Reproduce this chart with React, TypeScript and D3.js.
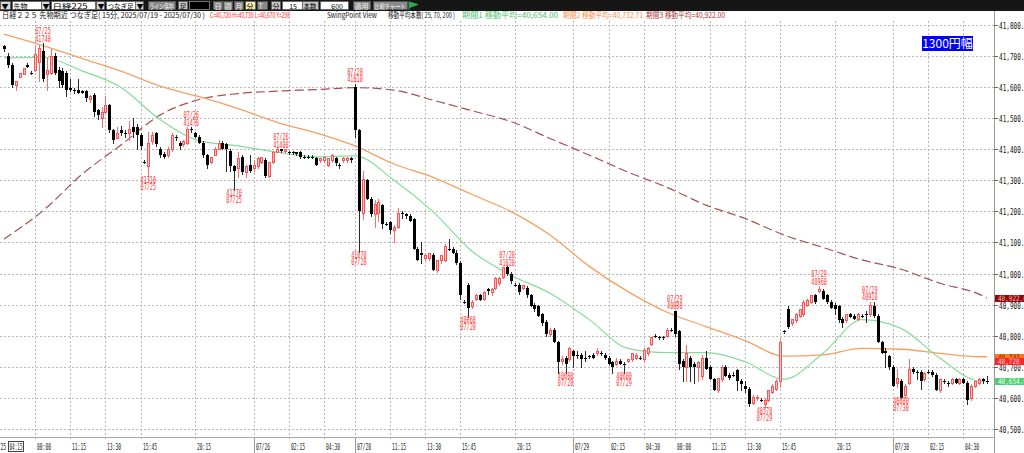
import * as d3 from 'd3';
import { useEffect, useRef } from 'react';

// 15-minute bars, [open, high, low, close]
const ohlc: number[][] = [
  [41730, 41735, 41715, 41720], [41700, 41710, 41665, 41670], [41670, 41675, 41600, 41605], [41605, 41620, 41590, 41620],
  [41630, 41645, 41630, 41645], [41640, 41660, 41640, 41660], [41670, 41675, 41665, 41665], [41645, 41650, 41640, 41645],
  [41655, 41735, 41650, 41705], [41680, 41735, 41620, 41725], [41715, 41740, 41620, 41625], [41640, 41695, 41590, 41655],
  [41645, 41720, 41640, 41700], [41700, 41710, 41640, 41645], [41655, 41665, 41600, 41620], [41650, 41660, 41600, 41605],
  [41645, 41650, 41570, 41590], [41595, 41625, 41585, 41590], [41590, 41595, 41580, 41585], [41590, 41625, 41580, 41580],
  [41585, 41590, 41580, 41580], [41585, 41590, 41555, 41565], [41560, 41575, 41550, 41570], [41575, 41580, 41505, 41520],
  [41525, 41530, 41495, 41510], [41500, 41535, 41470, 41520], [41520, 41570, 41515, 41540], [41540, 41545, 41455, 41460],
  [41460, 41465, 41420, 41430], [41435, 41470, 41435, 41450], [41460, 41475, 41445, 41450], [41450, 41460, 41440, 41450],
  [41450, 41490, 41430, 41465], [41470, 41500, 41440, 41455], [41470, 41480, 41400, 41445], [41445, 41450, 41400, 41410],
  [41360, 41365, 41355, 41360], [41345, 41455, 41310, 41420], [41425, 41455, 41415, 41445], [41450, 41455, 41410, 41415],
  [41400, 41405, 41375, 41380], [41385, 41390, 41370, 41375], [41380, 41405, 41375, 41400], [41400, 41450, 41395, 41445],
  [41440, 41445, 41430, 41435], [41420, 41425, 41400, 41410], [41415, 41430, 41410, 41425], [41420, 41470, 41415, 41465],
  [41465, 41470, 41455, 41460], [41450, 41455, 41440, 41440], [41440, 41445, 41420, 41420], [41420, 41425, 41375, 41380],
  [41380, 41385, 41340, 41350], [41360, 41375, 41355, 41375], [41380, 41405, 41380, 41400], [41400, 41430, 41400, 41420],
  [41420, 41425, 41400, 41400], [41415, 41420, 41330, 41400], [41395, 41400, 41330, 41345], [41345, 41350, 41270, 41330],
  [41340, 41390, 41310, 41370], [41375, 41380, 41320, 41325], [41325, 41350, 41310, 41345], [41350, 41380, 41325, 41330],
  [41340, 41365, 41330, 41350], [41345, 41375, 41340, 41370], [41360, 41375, 41355, 41375], [41365, 41370, 41310, 41315],
  [41315, 41360, 41310, 41360], [41360, 41395, 41355, 41390], [41390, 41405, 41390, 41400], [41400, 41400, 41390, 41395],
  [41395, 41400, 41390, 41400], [41390, 41395, 41385, 41390], [41390, 41395, 41385, 41390], [41390, 41390, 41380, 41385],
  [41390, 41395, 41370, 41375], [41375, 41380, 41370, 41375], [41375, 41380, 41370, 41375], [41375, 41380, 41370, 41375],
  [41370, 41375, 41350, 41350], [41365, 41370, 41360, 41370], [41365, 41375, 41360, 41375], [41350, 41370, 41345, 41370],
  [41365, 41385, 41360, 41380], [41370, 41375, 41350, 41355], [41350, 41355, 41340, 41345], [41365, 41375, 41360, 41370],
  [41365, 41375, 41360, 41370], [41370, 41375, 41360, 41365], [41600, 41610, 41440, 41460], [41460, 41465, 41070, 41200],
  [41195, 41330, 41175, 41305], [41300, 41305, 41240, 41240], [41240, 41245, 41185, 41190], [41190, 41235, 41150, 41225],
  [41195, 41240, 41170, 41230], [41220, 41225, 41145, 41160], [41160, 41165, 41155, 41160], [41165, 41170, 41130, 41140],
  [41140, 41155, 41100, 41150], [41150, 41210, 41145, 41195], [41195, 41200, 41180, 41190], [41190, 41195, 41180, 41185],
  [41185, 41190, 41170, 41170], [41175, 41180, 41080, 41080], [41080, 41085, 41045, 41045], [41065, 41100, 41035, 41060],
  [41050, 41065, 41045, 41060], [41050, 41065, 41045, 41065], [41060, 41065, 41010, 41010], [41010, 41045, 41005, 41045],
  [41045, 41060, 41035, 41060], [41045, 41095, 41040, 41090], [41080, 41110, 41075, 41075], [41080, 41085, 41065, 41065],
  [41065, 41075, 41030, 41035], [41035, 41040, 40920, 40930], [40910, 40915, 40905, 40910], [40965, 40970, 40860, 40890],
  [40895, 40915, 40890, 40910], [40920, 40935, 40915, 40930], [40930, 40935, 40915, 40915], [40920, 40945, 40915, 40940],
  [40950, 40955, 40935, 40945], [40940, 40955, 40930, 40950], [40955, 40990, 40950, 40985], [40970, 40990, 40965, 40985],
  [40990, 41020, 40985, 41020], [41020, 41025, 40995, 41000], [41000, 41005, 40970, 40975], [40965, 40970, 40960, 40965],
  [40965, 40970, 40935, 40940], [40955, 40965, 40950, 40965], [40955, 40960, 40925, 40930], [40930, 40935, 40895, 40895],
  [40900, 40905, 40880, 40885], [40895, 40900, 40865, 40865], [40870, 40875, 40835, 40840], [40845, 40850, 40800, 40805],
  [40805, 40825, 40800, 40820], [40820, 40825, 40780, 40780], [40780, 40785, 40680, 40715], [40720, 40735, 40710, 40725],
  [40730, 40735, 40680, 40710], [40725, 40765, 40720, 40760], [40750, 40755, 40700, 40735], [40740, 40750, 40730, 40740],
  [40740, 40745, 40700, 40725], [40730, 40750, 40720, 40725], [40735, 40740, 40730, 40735], [40740, 40745, 40730, 40730],
  [40745, 40760, 40740, 40750], [40745, 40750, 40740, 40745], [40740, 40745, 40725, 40730], [40730, 40735, 40710, 40710],
  [40715, 40720, 40680, 40700], [40710, 40730, 40705, 40720], [40720, 40725, 40710, 40710], [40710, 40715, 40680, 40710],
  [40720, 40725, 40715, 40725], [40725, 40745, 40720, 40745], [40730, 40745, 40725, 40740], [40730, 40735, 40725, 40730],
  [40725, 40760, 40720, 40755], [40745, 40765, 40740, 40760], [40775, 40795, 40770, 40795], [40800, 40805, 40795, 40795],
  [40795, 40800, 40790, 40795], [40795, 40800, 40790, 40795], [40800, 40825, 40795, 40820], [40820, 40825, 40815, 40820],
  [40880, 40880, 40800, 40805], [40815, 40820, 40695, 40710], [40720, 40725, 40655, 40700], [40700, 40770, 40655, 40745],
  [40730, 40735, 40655, 40700], [40710, 40715, 40650, 40700], [40700, 40720, 40655, 40715], [40670, 40740, 40660, 40730],
  [40730, 40750, 40695, 40695], [40700, 40705, 40660, 40660], [40660, 40665, 40625, 40625], [40625, 40665, 40620, 40665],
  [40660, 40705, 40655, 40700], [40700, 40705, 40670, 40670], [40675, 40680, 40660, 40665], [40675, 40685, 40670, 40675],
  [40690, 40695, 40625, 40655], [40655, 40660, 40625, 40645], [40640, 40655, 40620, 40630], [40630, 40635, 40575, 40580],
  [40585, 40610, 40580, 40605], [40600, 40610, 40595, 40605], [40595, 40600, 40590, 40595], [40580, 40600, 40570, 40595],
  [40595, 40625, 40590, 40625], [40620, 40645, 40615, 40640], [40630, 40660, 40625, 40655], [40655, 40790, 40635, 40780],
  [40815, 40820, 40810, 40815], [40885, 40895, 40825, 40830], [40840, 40855, 40835, 40855], [40850, 40875, 40845, 40870],
  [40865, 40885, 40860, 40885], [40870, 40915, 40865, 40910], [40900, 40920, 40895, 40915], [40910, 40930, 40905, 40930],
  [40930, 40935, 40905, 40910], [40945, 40960, 40940, 40950], [40945, 40950, 40920, 40920], [40930, 40935, 40905, 40910],
  [40910, 40915, 40890, 40890], [40900, 40905, 40870, 40885], [40895, 40900, 40845, 40850], [40855, 40860, 40830, 40840],
  [40850, 40870, 40845, 40870], [40870, 40875, 40860, 40860], [40865, 40870, 40855, 40855], [40855, 40875, 40850, 40870],
  [40865, 40870, 40860, 40860], [40870, 40880, 40845, 40870], [40870, 40910, 40865, 40900], [40895, 40910, 40860, 40865],
  [40865, 40870, 40780, 40780], [40780, 40785, 40745, 40745], [40750, 40760, 40700, 40745], [40735, 40740, 40695, 40700],
  [40700, 40705, 40640, 40640], [40650, 40695, 40635, 40665], [40655, 40660, 40600, 40600], [40610, 40645, 40605, 40640],
  [40650, 40725, 40645, 40695], [40695, 40700, 40680, 40685], [40685, 40690, 40660, 40685], [40685, 40690, 40630, 40655],
  [40660, 40685, 40655, 40680], [40685, 40690, 40680, 40685], [40685, 40690, 40670, 40675], [40675, 40680, 40625, 40625],
  [40625, 40665, 40620, 40660], [40655, 40660, 40650, 40655], [40650, 40655, 40640, 40645], [40650, 40665, 40645, 40660],
  [40660, 40665, 40650, 40650], [40650, 40665, 40645, 40660], [40660, 40665, 40650, 40650], [40650, 40655, 40580, 40595],
  [40600, 40645, 40595, 40640], [40640, 40655, 40635, 40655], [40650, 40665, 40645, 40660], [40660, 40665, 40650, 40655],
  [40655, 40670, 40650, 40655],
];

// moving averages, read at these bars
const maBars = [0, 10, 20, 30, 40, 50, 60, 70, 80, 90, 100, 110, 120, 130, 140, 150, 160, 170, 180, 190, 200, 210, 220, 230, 240, 250, 252];
const ma25 = [41693, 41694, 41651, 41598, 41495, 41427, 41410, 41390, 41375, 41378, 41300, 41199, 41072, 40995, 40937, 40853, 40760, 40746, 40746, 40717, 40661, 40744, 40852, 40824, 40728, 40655, 40654];
const ma70 = [41769, 41732, 41691, 41650, 41602, 41568, 41530, 41486, 41452, 41410, 41352, 41309, 41254, 41199, 41124, 41024, 40942, 40876, 40830, 40785, 40735, 40739, 40760, 40757, 40744, 40733, 40733];
const ma200 = [41111, 41202, 41319, 41413, 41509, 41559, 41578, 41586, 41591, 41597, 41589, 41557, 41523, 41488, 41434, 41381, 41326, 41277, 41220, 41177, 41124, 41084, 41044, 41014, 40969, 40934, 40922];

const priceTicks = [40500, 40600, 40700, 40800, 40900, 41000, 41100, 41200, 41300, 41400, 41500, 41600, 41700, 41800];

const timeBars = [8, 17, 26, 35, 49, 64, 73, 82, 90, 99, 108, 117, 131, 146, 155, 164, 172, 181, 190, 199, 213, 228, 237, 246];
const timeLabels = ['08:00', '11:15', '13:30', '15:45', '20:15', '07/26', '02:15', '04:30', '07/28', '11:15', '13:30', '15:45',
  '20:15', '07/29', '02:15', '04:30', '08:00', '11:15', '13:30', '15:45', '20:15', '07/30', '02:15', '04:30'];

// swing points: bar, high/low, date, price
const swingBars = [10, 37, 48, 59, 71, 90, 91, 119, 129, 144, 159, 172, 195, 209, 222, 230];
const swingHigh = [true, false, true, false, true, true, false, false, true, false, false, true, false, true, true, false];
const swingDates = ['07/25', '07/25', '07/26', '07/25', '07/26', '07/28', '07/28', '07/28', '07/28', '07/28', '07/29', '07/29', '07/29', '07/29', '07/29', '07/30'];
const swingPrices = [41740, 41310, 41470, 41270, 41400, 41610, 41070, 40860, 41020, 40680, 40680, 40880, 40570, 40960, 40910, 40600];

// last values on the price axis
const lastTexts = ['40,922.0', '40,732.7', '40,720', '40,654.0'];
const lastPrices = [40922, 40732.71, 40720, 40654];

const MONO = 'DejaVu Sans Mono, monospace';
const JP = 'Noto Sans CJK JP, sans-serif';

const NikkeiChart = () => {
  const ref = useRef<SVGSVGElement | null>(null);

  useEffect(() => {
    const width = 1024;
    const height = 453;
    const plotRight = 994;
    const plotTop = 20;
    const plotBottom = 437;

    const svg = d3.select(ref.current).attr('width', width).attr('height', height);
    svg.selectAll('*').remove();

    const x = d3.scaleLinear().domain([0, ohlc.length - 1]).range([4, 986.8]);
    const y = d3.scaleLinear().domain([40500, 41800]).range([429.3, 24.5]);

    svg.append('rect').attr('width', width).attr('height', height).attr('fill', '#fff');

    svg.append('defs').append('clipPath').attr('id', 'plot-clip')
      .append('rect').attr('x', 0).attr('y', plotTop).attr('width', plotRight).attr('height', plotBottom - plotTop);

    // grid
    const grid = svg.append('g').attr('stroke', '#b8b8b8').attr('stroke-dasharray', '2,2').attr('stroke-width', 1);
    priceTicks.forEach((p) => {
      const yy = Math.round(y(p)) + 0.5;
      grid.append('line').attr('x1', 0).attr('x2', plotRight).attr('y1', yy).attr('y2', yy);
    });
    timeBars.forEach((b) => {
      const xx = Math.round(x(b)) + 0.5;
      grid.append('line').attr('x1', xx).attr('x2', xx).attr('y1', 21).attr('y2', 441);
    });
    // day separators in the time axis
    timeBars.forEach((b, k) => {
      if (!timeLabels[k].includes('/')) return;
      const xx = Math.round(x(b)) + 0.5;
      svg.append('line').attr('x1', xx).attr('x2', xx).attr('y1', 437).attr('y2', 453).attr('stroke', '#9a9a9a');
    });

    // axes frame
    svg.append('line').attr('x1', 0).attr('x2', plotRight).attr('y1', plotBottom + 0.5).attr('y2', plotBottom + 0.5).attr('stroke', '#a8a8a8');
    svg.append('line').attr('x1', plotRight + 0.5).attr('x2', plotRight + 0.5).attr('y1', 11).attr('y2', height).attr('stroke', '#9a9a9a');

    // price labels
    priceTicks.forEach((p) => {
      const yy = Math.round(y(p)) + 0.5;
      svg.append('line').attr('x1', plotRight).attr('x2', plotRight + 4).attr('y1', yy).attr('y2', yy).attr('stroke', '#666');
      svg.append('text').attr('x', 999).attr('y', yy + 3).attr('font-family', MONO).attr('font-size', 8)
        .attr('textLength', 29).attr('lengthAdjust', 'spacingAndGlyphs').attr('fill', '#111')
        .text(d3.format(',.1f')(p));
    });

    // time labels
    timeBars.forEach((b, k) => {
      svg.append('text').attr('x', Math.round(x(b)) + 2).attr('y', 449.5).attr('font-family', MONO).attr('font-size', 8)
        .attr('textLength', 14).attr('lengthAdjust', 'spacingAndGlyphs').attr('fill', '#222').text(timeLabels[k]);
    });
    svg.append('text').attr('x', 6).attr('y', 449.5).attr('text-anchor', 'end').attr('font-family', MONO).attr('font-size', 8)
      .attr('textLength', 14).attr('lengthAdjust', 'spacingAndGlyphs').attr('fill', '#222').text('07/25');
    svg.append('rect').attr('x', 8.5).attr('y', 441.5).attr('width', 15).attr('height', 10).attr('fill', '#fff').attr('stroke', '#444');
    svg.append('text').attr('x', 9.5).attr('y', 449.5).attr('font-family', MONO).attr('font-size', 8)
      .attr('textLength', 13).attr('lengthAdjust', 'spacingAndGlyphs').attr('fill', '#222').text('04:15');

    const plot = svg.append('g').attr('clip-path', 'url(#plot-clip)');

    // moving averages
    const maLine = d3.line<number>().x((_, k) => x(maBars[k])).y((d) => y(d)).curve(d3.curveMonotoneX);
    plot.append('path').attr('d', maLine(ma200)).attr('fill', 'none').attr('stroke', '#a65050')
      .attr('stroke-width', 1.2).attr('stroke-dasharray', '9,4');
    plot.append('path').attr('d', maLine(ma70)).attr('fill', 'none').attr('stroke', '#f5a062').attr('stroke-width', 1.3);
    plot.append('path').attr('d', maLine(ma25)).attr('fill', 'none').attr('stroke', '#86dc96').attr('stroke-width', 1.2);

    // candles
    ohlc.forEach(([o, h, l, c], i) => {
      const px = Math.round(x(i));
      const cx = px + 0.5;
      const up = c > o;
      const top = Math.round(y(Math.max(o, c)));
      const bot = Math.round(y(Math.min(o, c)));
      plot.append('line').attr('x1', cx).attr('x2', cx).attr('y1', Math.round(y(h))).attr('y2', Math.round(y(l)) + 1)
        .attr('stroke', up ? '#ff6a6a' : '#2a2a2a');
      if (up) {
        plot.append('rect').attr('x', px - 0.5).attr('y', top + 0.5).attr('width', 2).attr('height', Math.max(1, bot - top))
          .attr('fill', '#ffc6c6').attr('stroke', '#ff5252').attr('stroke-width', 1);
      } else {
        plot.append('rect').attr('x', px - 1).attr('y', top).attr('width', 3).attr('height', Math.max(1, bot - top)).attr('fill', '#000');
      }
    });

    // swing point labels
    swingBars.forEach((b, k) => {
      const yy = y(swingPrices[k]);
      const lines = swingHigh[k]
        ? [[swingDates[k], yy - 9], [String(swingPrices[k]), yy - 1.5]]
        : [[String(swingPrices[k]), yy + 6], [swingDates[k], yy + 13]];
      lines.forEach(([t, ty]) => {
        svg.append('text').attr('x', x(b)).attr('y', ty as number).attr('text-anchor', 'middle')
          .attr('font-family', MONO).attr('font-size', 8).attr('textLength', 15.5).attr('lengthAdjust', 'spacingAndGlyphs')
          .attr('fill', '#ff3030').text(t as string);
      });
    });

    // range box
    svg.append('rect').attr('x', 922).attr('y', 36).attr('width', 51).attr('height', 15).attr('fill', '#0000ff');
    svg.append('text').attr('x', 947.5).attr('y', 48).attr('text-anchor', 'middle').attr('font-family', JP)
      .attr('font-size', 12).attr('fill', '#fff').text('1300円幅');

    // last value boxes
    const boxFill = ['#8b0a0a', '#ff7a1a', '#ff2626', '#4dcf72'];
    const boxText = ['#ffb4b4', '#7a1a00', '#ffd0d0', '#eaffea'];
    lastPrices.forEach((p, k) => {
      const yy = Math.round(y(p));
      svg.append('rect').attr('x', plotRight + 1).attr('y', yy - 3).attr('width', width - plotRight).attr('height', 7).attr('fill', boxFill[k]);
      svg.append('text').attr('x', 998).attr('y', yy + 3).attr('font-family', MONO).attr('font-size', 7.5)
        .attr('textLength', lastTexts[k].length * 3.6).attr('lengthAdjust', 'spacingAndGlyphs').attr('fill', boxText[k]).text(lastTexts[k]);
    });

    // toolbar
    svg.append('rect').attr('x', 0).attr('y', 0).attr('width', width).attr('height', 11).attr('fill', '#161616');
    const tools: [number, number, string, string][] = [
      [0, 10, 'btn', '▼'], [12, 29, 'field', '先物'], [41, 8, 'btn', '▼'], [51, 44, 'field', '日経225'], [96, 8, 'btn', '▼'],
      [106, 29, 'field', 'つなぎ足'], [135, 8, 'btn', '▼'], [148, 27, 'gray', 'ライン保存'], [178, 9, 'light', '足'],
      [189, 20, 'dark', ''], [213, 9, 'gray', '日'], [223, 9, 'gray', '週'], [234, 9, 'gray', '月'], [245, 10, 'hl', '分'],
      [257, 10, 'gray', 'T'], [271, 9, 'light', '分'], [282, 20, 'field', '15'], [302, 16, 'light', '本数'],
      [320, 28, 'field', '600'], [353, 17, 'gray', '適用'], [373, 34, 'gray', '比較チャート'],
    ];
    const toolFill: Record<string, string> = { btn: '#d8d8d8', field: '#fff', gray: '#8a8a8a', light: '#c8c8c8', dark: '#000', hl: '#f4f0b0' };
    const toolInk: Record<string, string> = { btn: '#000', field: '#000', gray: '#f2f2f2', light: '#000', dark: '#fff', hl: '#000' };
    tools.forEach(([tx, tw, kind, label]) => {
      svg.append('rect').attr('x', tx + 0.5).attr('y', 1.5).attr('width', tw).attr('height', 8).attr('fill', toolFill[kind])
        .attr('stroke', kind === 'dark' ? '#bbb' : '#555').attr('stroke-width', 0.6);
      if (label) {
        const right = kind === 'field' && /^\d+$/.test(label);
        const t = svg.append('text').attr('x', right ? tx + tw - 5 : tx + 1.5).attr('y', 8.6).attr('text-anchor', right ? 'end' : 'start')
          .attr('font-family', JP).attr('font-size', 7).attr('fill', toolInk[kind]).text(label);
        if (label.length > 1 && !right) {
          t.attr('textLength', Math.min(tw - 3, label.length * 7)).attr('lengthAdjust', 'spacingAndGlyphs');
        }
      }
    });
    svg.append('path').attr('d', 'M409,1.5 L409,10 M409.5,2 L418,4.5 L409.5,7.5 Z').attr('stroke', '#2fa84f').attr('fill', '#2fa84f');

    // header line
    const header: [number, number, string, string][] = [
      [2, 203, '#111', '日経２２５ 先物期近 つなぎ足( 15分, 2025/07/19 - 2025/07/30 )'],
      [210, 80, '#ff2020', 'C=40,720 H=40,730 L=40,670 Y=298'],
      [327, 50, '#111', 'SwingPoint View'],
      [388, 67, '#111', '移動平均本数( 25, 70, 200 )'],
      [462, 96, '#4cc46a', '期間1 移動平均=40,654.00'],
      [563, 80, '#ff8a40', '期間2 移動平均=40,732.71'],
      [646, 79, '#a83434', '期間3 移動平均=40,922.00'],
    ];
    header.forEach(([hx, hw, col, t]) => {
      svg.append('text').attr('x', hx).attr('y', 18).attr('font-family', JP).attr('font-size', 7.5)
        .attr('textLength', hw).attr('lengthAdjust', 'spacingAndGlyphs').attr('fill', col).text(t);
    });
  }, []);

  return <svg ref={ref} style={{ position: 'absolute', left: 0, top: 0, display: 'block' }}></svg>;
};

export default function App() {
  return <NikkeiChart />;
}
